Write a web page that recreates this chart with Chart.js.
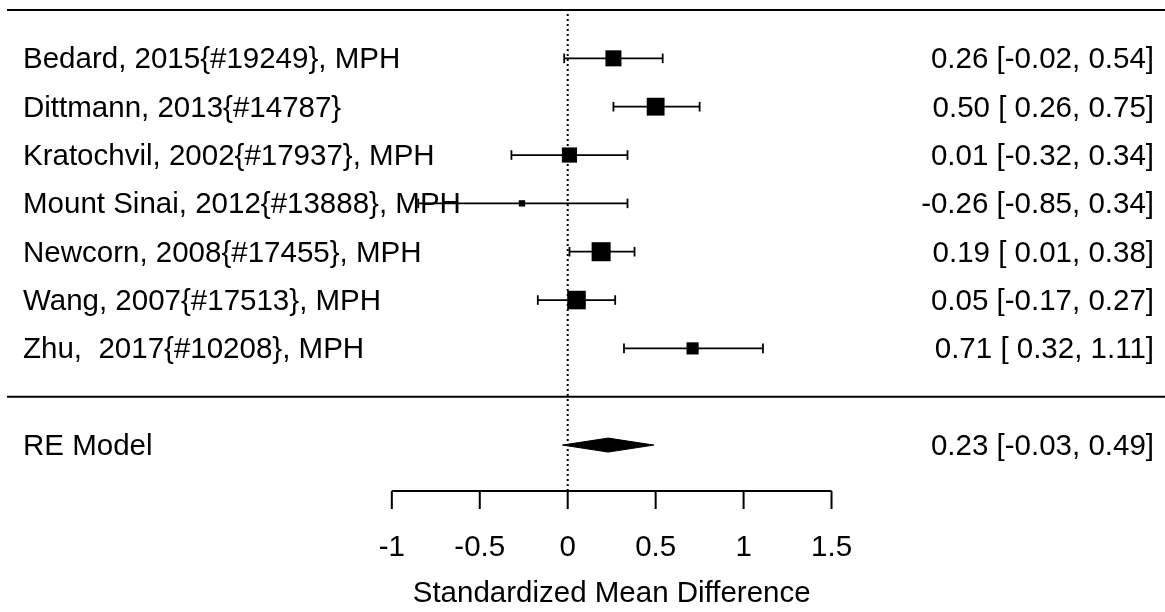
<!DOCTYPE html>
<html>
<head>
<meta charset="utf-8">
<title>Forest plot</title>
<script src="https://cdn.jsdelivr.net/npm/chart.js@4.4.1/dist/chart.umd.min.js"></script>
<style>
  html, body { margin: 0; padding: 0; background: #fff; }
  #wrap { width: 1165px; height: 612px; }
</style>
</head>
<body>
<div id="wrap"><canvas id="forest"></canvas></div>
<script>
// Studies, listed top to bottom
const studies = [
  'Bedard, 2015{#19249}, MPH',
  'Dittmann, 2013{#14787}',
  'Kratochvil, 2002{#17937}, MPH',
  'Mount Sinai, 2012{#13888}, MPH',
  'Newcorn, 2008{#17455}, MPH',
  'Wang, 2007{#17513}, MPH',
  'Zhu,  2017{#10208}, MPH'
];
const estimates = [0.26, 0.50, 0.01, -0.26, 0.19, 0.05, 0.71];
const ciLower   = [-0.02, 0.26, -0.32, -0.85, 0.01, -0.17, 0.32];
const ciUpper   = [0.54, 0.75, 0.34, 0.34, 0.38, 0.27, 1.11];
// random-effects weights, shown through the size of each box
const weights   = [15.5, 17.0, 14.8, 7.5, 18.0, 17.6, 12.3];

// pooled random-effects estimate
const pooledLabel = 'RE Model';
const pooledEstimate = 0.23;
const pooledLower = -0.03;
const pooledUpper = 0.49;

const axisTicks = [-1, -0.5, 0, 0.5, 1, 1.5];
const axisTitle = 'Standardized Mean Difference';

// layout of the plotting region (in data units)
const X_MIN = -3.188, X_MAX = 3.396;
const Y_MIN = -1.95, Y_TOP = 8;
const FONT = '29.5px "Liberation Sans", Arial, sans-serif';

const k = studies.length;
const rowOf = i => k - i;      // study i sits on row k..1
const pooledRow = -1;

// box side between 0.5x and 1.5x of the base size, linear in weight
const wMin = Math.min(...weights), wMax = Math.max(...weights);
const boxSide = w => 12.7 * (0.5 + (w - wMin) / (wMax - wMin));

// CI segments separated by gaps so each study gets its own line
const ciPoints = [];
estimates.forEach((e, i) => {
  ciPoints.push({ x: ciLower[i], y: rowOf(i) });
  ciPoints.push({ x: ciUpper[i], y: rowOf(i) });
  ciPoints.push({ x: NaN, y: NaN });
});

const diamondHalf = 0.145;
const diamond = [
  { x: pooledLower, y: pooledRow },
  { x: pooledEstimate, y: pooledRow + diamondHalf },
  { x: pooledUpper, y: pooledRow },
  { x: pooledEstimate, y: pooledRow - diamondHalf },
  { x: pooledLower, y: pooledRow }
];

const fmt = v => v.toFixed(2);
const padFmt = v => (v < 0 ? '' : ' ') + v.toFixed(2);
const ciText = (e, lo, hi) => `${fmt(e)} [${padFmt(lo)}, ${fmt(hi)}]`;

// text columns and the bottom axis
const annotations = {
  id: 'annotations',
  beforeDatasetsDraw(chart) {
    const { ctx, chartArea, scales: { x, y } } = chart;
    ctx.save();
    ctx.fillStyle = '#000';
    ctx.font = FONT;
    ctx.textBaseline = 'alphabetic';

    const leftX = chartArea.left + 16;
    const rightX = chartArea.right - 11;
    studies.forEach((name, i) => {
      const py = y.getPixelForValue(rowOf(i)) + 10;
      ctx.textAlign = 'left';
      ctx.fillText(name, leftX, py);
      ctx.textAlign = 'right';
      ctx.fillText(ciText(estimates[i], ciLower[i], ciUpper[i]), rightX, py);
    });
    const pr = y.getPixelForValue(pooledRow) + 10;
    ctx.textAlign = 'left';
    ctx.fillText(pooledLabel, leftX, pr);
    ctx.textAlign = 'right';
    ctx.fillText(ciText(pooledEstimate, pooledLower, pooledUpper), rightX, pr);

    // x axis
    const ay = chartArea.bottom;
    const x0 = x.getPixelForValue(axisTicks[0]);
    const x1 = x.getPixelForValue(axisTicks[axisTicks.length - 1]);
    ctx.strokeStyle = '#000';
    ctx.lineWidth = 2;
    ctx.beginPath();
    ctx.moveTo(x0, ay);
    ctx.lineTo(x1, ay);
    axisTicks.forEach(t => {
      const px = x.getPixelForValue(t);
      ctx.moveTo(px, ay);
      ctx.lineTo(px, ay + 18);
    });
    ctx.stroke();

    ctx.textAlign = 'center';
    axisTicks.forEach(t => {
      ctx.fillText(String(t), x.getPixelForValue(t), ay + 65);
    });
    ctx.fillText(axisTitle, (x0 + x1) / 2, ay + 111);
    ctx.restore();
  }
};

new Chart(document.getElementById('forest'), {
  type: 'scatter',
  data: {
    datasets: [
      {
        // header rule
        data: [{ x: X_MIN, y: Y_TOP }, { x: X_MAX, y: Y_TOP }],
        showLine: true, borderColor: '#000', borderWidth: 2, pointRadius: 0,
        clip: false
      },
      {
        // rule between the studies and the pooled row
        data: [{ x: X_MIN, y: 0 }, { x: X_MAX, y: 0 }],
        showLine: true, borderColor: '#000', borderWidth: 2, pointRadius: 0,
        clip: false
      },
      {
        // line of no effect
        data: [{ x: 0, y: Y_MIN }, { x: 0, y: Y_TOP }],
        showLine: true, borderColor: '#000', borderWidth: 2,
        borderDash: [2, 3], pointRadius: 0
      },
      {
        // confidence intervals with end caps
        data: ciPoints,
        showLine: true, spanGaps: false,
        borderColor: '#000', borderWidth: 1.8,
        pointStyle: 'line', pointRotation: 90, pointRadius: 4.8,
        pointBorderColor: '#000', pointBorderWidth: 1.8
      },
      {
        // study estimates
        data: estimates.map((e, i) => ({ x: e, y: rowOf(i) })),
        pointStyle: 'rect',
        pointRadius: c => boxSide(weights[c.dataIndex]) / Math.SQRT2,
        pointBackgroundColor: '#000', pointBorderWidth: 0
      },
      {
        // pooled estimate diamond
        data: diamond,
        showLine: true, fill: 'shape', tension: 0,
        borderColor: '#000', borderWidth: 1, backgroundColor: '#000',
        pointRadius: 0
      }
    ]
  },
  options: {
    responsive: true,
    maintainAspectRatio: false,
    animation: false,
    events: [],
    layout: { autoPadding: false, padding: { top: 10, bottom: 121, left: 7, right: 0 } },
    plugins: { legend: { display: false }, tooltip: { enabled: false } },
    scales: {
      x: { type: 'linear', min: X_MIN, max: X_MAX, display: false },
      y: { type: 'linear', min: Y_MIN, max: Y_TOP, display: false }
    }
  },
  plugins: [annotations]
});
</script>
</body>
</html>
